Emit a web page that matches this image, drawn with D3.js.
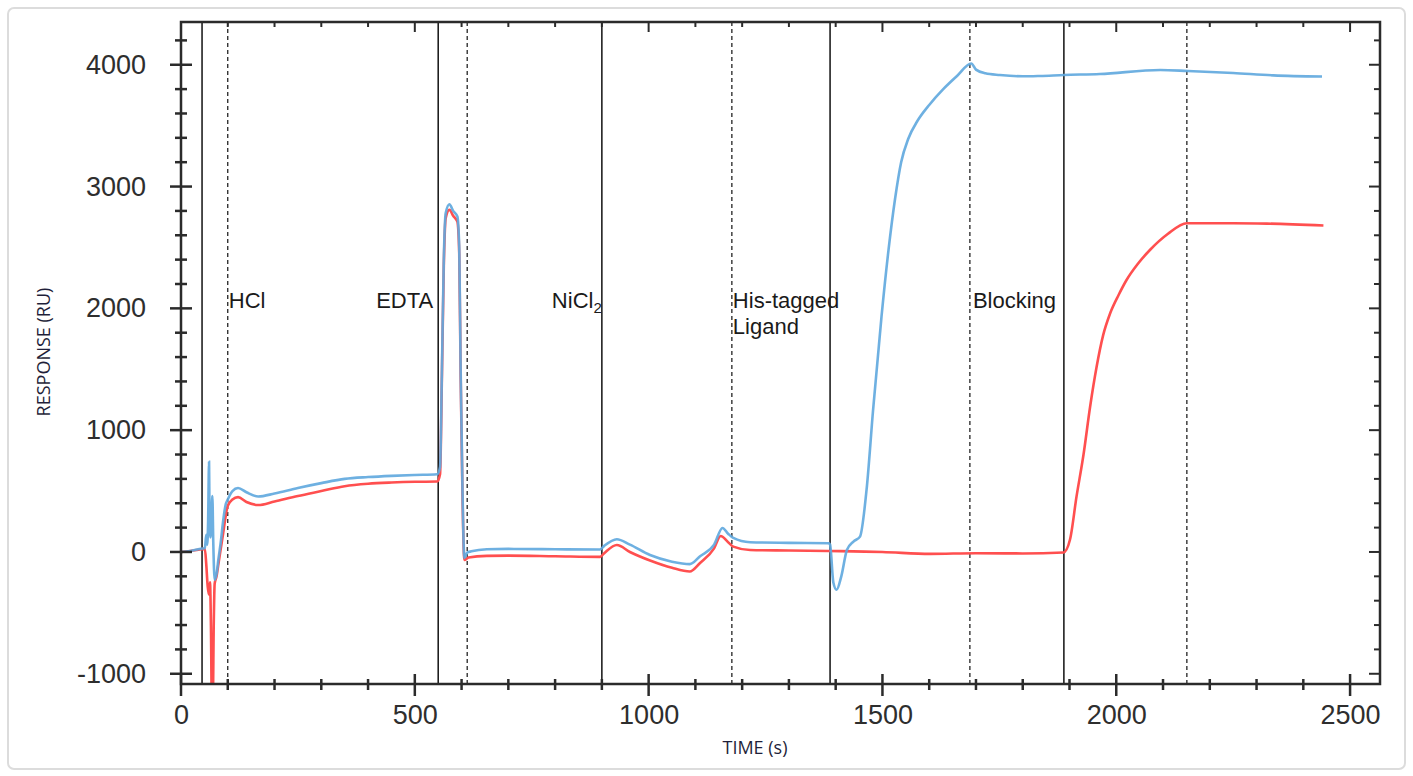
<!DOCTYPE html>
<html>
<head>
<meta charset="utf-8">
<script src="https://cdn.jsdelivr.net/npm/d3@7"></script>
<style>
  body { margin: 0; background: #fff; }
  svg text { font-family: "Liberation Sans", Arial, sans-serif; }
</style>
</head>
<body>
<div id="sensorgram"></div>
<script>
// data: [time (s), response (RU)]
var blueSeries = [
  [0, 0], [20, 8], [45, 28], [51, 30], [54, 140], [56, 60], [58, 250], [60, 740], [61, 300],
  [63, 120], [65, 200], [67, 460], [69, 80], [72, -230], [76, -180], [80, -60], [85, 80],
  [90, 250], [95, 380], [100, 430], [110, 500], [122, 525], [140, 490], [165, 455], [200, 480],
  [250, 525], [300, 565], [350, 600], [400, 615], [450, 625], [500, 632], [548, 638],
  [554, 700], [558, 1500], [562, 2400], [566, 2780], [574, 2855], [582, 2800], [591, 2755],
  [595, 2500], [598, 1500], [602, 500], [606, -50], [612, -5], [621, 5], [654, 22], [700, 25],
  [800, 22], [896, 20], [905, 50], [932, 105], [960, 60], [1003, -25], [1050, -80], [1088, -100],
  [1110, -35], [1140, 60], [1158, 197], [1170, 150], [1181, 115], [1217, 80], [1300, 75],
  [1385, 72], [1388, 60], [1395, -250], [1402, -310], [1412, -200], [1424, 16], [1438, 85],
  [1452, 126], [1466, 509], [1480, 1166], [1498, 1932], [1513, 2480], [1527, 2900], [1540, 3200],
  [1555, 3390], [1575, 3540], [1600, 3670], [1630, 3800], [1660, 3910], [1690, 4010],
  [1700, 3960], [1720, 3930], [1751, 3916], [1800, 3905], [1837, 3908], [1888, 3916],
  [1965, 3924], [2094, 3957], [2153, 3949], [2250, 3932], [2336, 3913], [2440, 3903]
];

var redSeries = [
  [0, 0], [20, 8], [45, 22], [51, 25], [54, -100], [57, -280], [60, -350], [62, -250],
  [64, -600], [66, -1250], [68, -1250], [70, -600], [72, -260], [76, -200], [80, -100],
  [90, 150], [100, 380], [110, 430], [122, 450], [140, 410], [165, 385], [200, 415], [250, 460],
  [300, 500], [350, 540], [400, 560], [450, 570], [500, 576], [548, 578], [554, 640],
  [558, 1450], [562, 2350], [566, 2740], [574, 2810], [582, 2760], [591, 2712], [595, 2450],
  [598, 1450], [602, 450], [606, -65], [615, -45], [654, -32], [700, -30], [800, -35],
  [896, -40], [905, -10], [932, 57], [960, 0], [1003, -70], [1050, -130], [1088, -160],
  [1110, -90], [1140, 30], [1154, 131], [1170, 80], [1181, 44], [1217, 16], [1300, 12],
  [1384, 8], [1500, 0], [1602, -16], [1700, -10], [1800, -12], [1887, -5], [1901, 100],
  [1915, 454], [1930, 800], [1944, 1190], [1958, 1520], [1972, 1780], [1987, 1960],
  [2005, 2110], [2022, 2233], [2045, 2360], [2072, 2479], [2110, 2610], [2151, 2699],
  [2250, 2699], [2322, 2696], [2443, 2680]
];

// injection starts (solid) and ends (dashed)
var solidLines = [45, 550, 900, 1388, 1888];
var dashedLines = [100, 612, 1178, 1687, 2151];

var xLabelTicks = [0, 500, 1000, 1500, 2000, 2500];
var yLabelTicks = [-1000, 0, 1000, 2000, 3000, 4000];

// set the dimensions and margins of the graph
var margin = {top: 22, right: 33, bottom: 92, left: 181},
    width = 1413 - margin.left - margin.right,
    height = 776 - margin.top - margin.bottom;

var svg = d3.select("#sensorgram")
  .append("svg")
    .attr("width", 1413)
    .attr("height", 776);

// light card border round everything
svg.append("rect")
    .attr("x", 8).attr("y", 8)
    .attr("width", 1397).attr("height", 761)
    .attr("rx", 6)
    .style("fill", "none")
    .style("stroke", "#dcdcdc")
    .style("stroke-width", 2);

var g = svg.append("g")
    .attr("transform", "translate(" + margin.left + "," + margin.top + ")");

var x = d3.scaleLinear()
  .domain([0, 2564])
  .range([0, width]);

var y = d3.scaleLinear()
  .domain([-1084, 4351])
  .range([height, 0]);

g.append("clipPath")
    .attr("id", "plotclip")
  .append("rect")
    .attr("width", width)
    .attr("height", height);

// phase lines
g.selectAll(".solid")
  .data(solidLines)
  .enter()
  .append("line")
    .attr("x1", function(d) { return x(d); })
    .attr("x2", function(d) { return x(d); })
    .attr("y1", 0)
    .attr("y2", height)
    .style("stroke", "#111")
    .style("stroke-width", 1.5);

g.selectAll(".dashed")
  .data(dashedLines)
  .enter()
  .append("line")
    .attr("x1", function(d) { return x(d); })
    .attr("x2", function(d) { return x(d); })
    .attr("y1", 0)
    .attr("y2", height)
    .style("stroke", "#111")
    .style("stroke-width", 1.2)
    .style("stroke-dasharray", "4,3");

// curves
var line = d3.line()
  .curve(d3.curveMonotoneX)
  .x(function(d) { return x(d[0]); })
  .y(function(d) { return y(d[1]); });

var curves = g.append("g").attr("clip-path", "url(#plotclip)");

curves.append("path")
    .datum(redSeries)
    .attr("d", line)
    .style("fill", "none")
    .style("stroke", "#ff4f4f")
    .style("stroke-width", 2.6);

curves.append("path")
    .datum(blueSeries)
    .attr("d", line)
    .style("fill", "none")
    .style("stroke", "#62a9de")
    .style("stroke-width", 2.6)
    .style("opacity", 0.92);

// phase labels
var lab = g.append("g")
    .style("font-size", "22px")
    .style("fill", "#1a1a1a");

lab.append("text").attr("x", x(dashedLines[0]) + 1).attr("y", 286).text("HCl");
lab.append("text").attr("x", x(solidLines[1]) - 5).attr("y", 286)
    .attr("text-anchor", "end").text("EDTA");
var ni = lab.append("text").attr("x", x(solidLines[2]) - 50).attr("y", 286);
ni.append("tspan").text("NiCl");
ni.append("tspan").attr("dy", 5).style("font-size", "15px").text("2");
lab.append("text").attr("x", x(dashedLines[2]) + 1).attr("y", 286).text("His-tagged");
lab.append("text").attr("x", x(dashedLines[2]) + 1).attr("y", 312).text("Ligand");
lab.append("text").attr("x", x(dashedLines[3]) + 3).attr("y", 286).text("Blocking");

// frame
g.append("rect")
    .attr("width", width)
    .attr("height", height)
    .style("fill", "none")
    .style("stroke", "#2b2b2b")
    .style("stroke-width", 2.5);

// tick marks
var xMinor = d3.range(0, 2501, 100);
var yMinor = d3.range(-1000, 4201, 200);

g.selectAll(".xb")
  .data(xMinor)
  .enter()
  .append("line")
    .attr("x1", function(d) { return x(d); })
    .attr("x2", function(d) { return x(d); })
    .attr("y1", function(d) { return d % 500 ? height - 5 : height - 10; })
    .attr("y2", function(d) { return d % 500 ? height + 6 : height + 12; })
    .style("stroke", "#2b2b2b")
    .style("stroke-width", 2.5);

g.selectAll(".xt")
  .data(xMinor)
  .enter()
  .append("line")
    .attr("x1", function(d) { return x(d); })
    .attr("x2", function(d) { return x(d); })
    .attr("y1", 0)
    .attr("y2", function(d) { return d % 500 ? 5 : 10; })
    .style("stroke", "#2b2b2b")
    .style("stroke-width", 2);

g.selectAll(".yl")
  .data(yMinor)
  .enter()
  .append("line")
    .attr("y1", function(d) { return y(d); })
    .attr("y2", function(d) { return y(d); })
    .attr("x1", function(d) { return d % 1000 ? -6 : -11; })
    .attr("x2", function(d) { return d % 1000 ? 6 : 11; })
    .style("stroke", "#2b2b2b")
    .style("stroke-width", 2.5);

g.selectAll(".yr")
  .data(yMinor)
  .enter()
  .append("line")
    .attr("y1", function(d) { return y(d); })
    .attr("y2", function(d) { return y(d); })
    .attr("x1", function(d) { return d % 1000 ? width - 6 : width - 11; })
    .attr("x2", width)
    .style("stroke", "#2b2b2b")
    .style("stroke-width", 2);

// tick labels, plain integers with a hyphen minus
var plain = function(d) { return String(d); };

var xAxis = g.append("g")
    .attr("transform", "translate(0," + height + ")")
    .call(d3.axisBottom(x).tickValues(xLabelTicks).tickFormat(plain).tickSize(0).tickPadding(21));
xAxis.select(".domain").remove();

var yAxis = g.append("g")
    .call(d3.axisLeft(y).tickValues(yLabelTicks).tickFormat(plain).tickSize(0).tickPadding(35));
yAxis.select(".domain").remove();

g.selectAll(".tick text")
    .style("font-family", "'Liberation Sans', Arial, sans-serif")
    .style("font-size", "27px")
    .style("fill", "#2e2e2e");

// axis titles
svg.append("text")
    .attr("x", 755)
    .attr("y", 754)
    .attr("text-anchor", "middle")
    .style("font-family", "'Open Sans', sans-serif")
    .style("font-size", "18px")
    .style("fill", "#1f1f3a")
    .text("TIME (s)");

svg.append("text")
    .attr("transform", "translate(50,352) rotate(-90)")
    .attr("text-anchor", "middle")
    .style("font-family", "'Open Sans', sans-serif")
    .style("font-size", "18px")
    .style("fill", "#1f1f3a")
    .text("RESPONSE (RU)");
</script>
</body>
</html>
